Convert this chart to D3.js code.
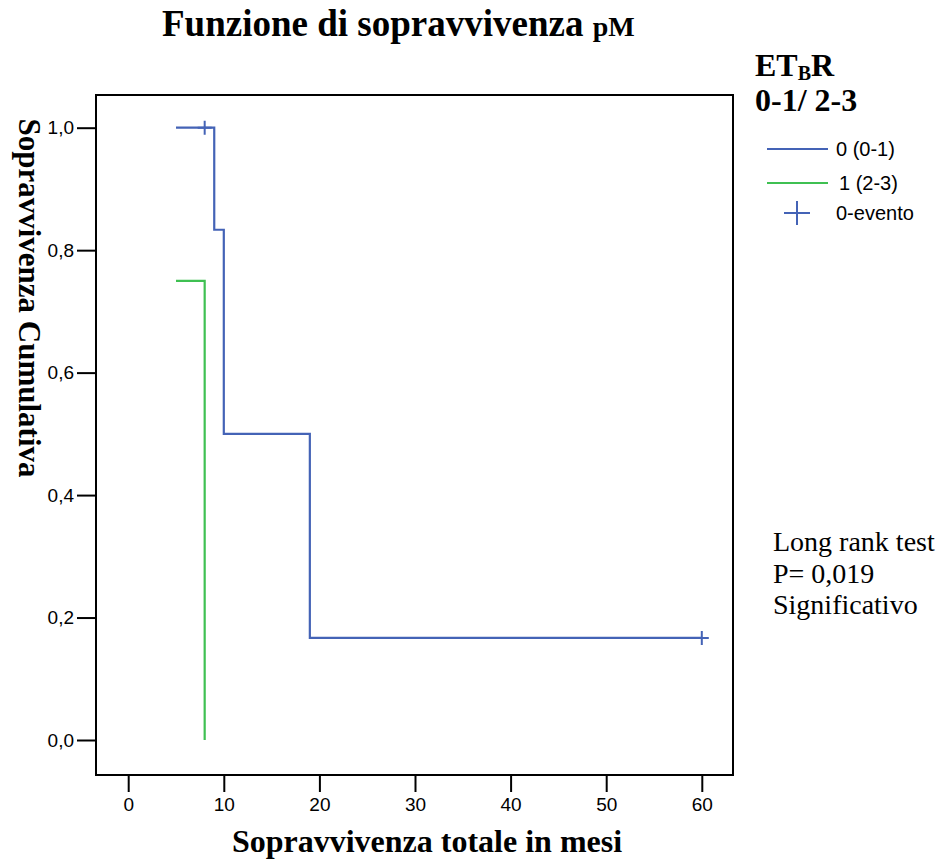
<!DOCTYPE html>
<html>
<head>
<meta charset="utf-8">
<script src="https://cdn.jsdelivr.net/npm/d3@7"></script>
<style>
  body { margin: 0; background: #fff; }
  svg { display: block; }
</style>
</head>
<body>
<svg width="946" height="859"></svg>
<script>
// Kaplan-Meier steps
const groupNames = ['0 (0-1)', '1 (2-3)'];
const group0Times = [5, 9, 10, 19, 60];
const group0Surv = [1.0, 0.8333, 0.5, 0.1667, 0.1667];
const group1Times = [5, 8];
const group1Surv = [0.75, 0.0];
const censorTimes = [8, 60];
const censorSurv = [1.0, 0.1667];
const xTicks = [0, 10, 20, 30, 40, 50, 60];
const yTicks = [0, 0.2, 0.4, 0.6, 0.8, 1.0];
const testLines = ['Long rank test', 'P= 0,019', 'Significativo'];

const blue = '#4463b6';
const green = '#3fc052';

const svg = d3.select('svg');

const frame = { left: 96, right: 733, top: 95, bottom: 775 };
const x = d3.scaleLinear().domain([0, 60]).range([128.2, 701.8]);
const y = d3.scaleLinear().domain([0, 1]).range([740, 127.7]);

// title
const title = svg.append('text')
  .attr('x', 162).attr('y', 36)
  .attr('font-family', 'Liberation Serif, Times New Roman, serif')
  .attr('font-weight', 'bold')
  .attr('font-size', 37)
  .text('Funzione di sopravvivenza ');
title.append('tspan').attr('font-size', 28).text('pM');

// plot frame
svg.append('rect')
  .attr('x', frame.left).attr('y', frame.top)
  .attr('width', frame.right - frame.left)
  .attr('height', frame.bottom - frame.top)
  .attr('fill', 'none').attr('stroke', '#000').attr('stroke-width', 2);

const fmt = d => d3.format('.1f')(d).replace('.', ',');

const yAxis = svg.append('g')
  .attr('transform', `translate(${frame.left - 19},0)`)
  .call(d3.axisLeft(y).tickValues(yTicks).tickFormat(fmt).tickSize(0).tickPadding(3));
yAxis.select('.domain').remove();
yAxis.selectAll('.tick line').remove();
yAxis.selectAll('.tick').append('line')
  .attr('x1', 0).attr('x2', 19)
  .attr('stroke', '#000').attr('stroke-width', 2);

const xAxis = svg.append('g')
  .attr('transform', `translate(0,${frame.bottom})`)
  .call(d3.axisBottom(x).tickValues(xTicks).tickSize(17).tickPadding(6));
xAxis.select('.domain').remove();
xAxis.selectAll('.tick line').attr('stroke', '#000').attr('stroke-width', 2);

svg.selectAll('.tick text')
  .attr('font-family', 'Liberation Sans, Arial, sans-serif')
  .attr('font-size', 19)
  .attr('fill', '#000');

// axis titles
svg.append('text')
  .attr('x', 427).attr('y', 852)
  .attr('text-anchor', 'middle')
  .attr('font-family', 'Liberation Serif, Times New Roman, serif')
  .attr('font-weight', 'bold').attr('font-size', 32)
  .text('Sopravvivenza totale in mesi');

svg.append('text')
  .attr('transform', 'translate(19,298) rotate(90)')
  .attr('text-anchor', 'middle')
  .attr('font-family', 'Liberation Serif, Times New Roman, serif')
  .attr('font-weight', 'bold').attr('font-size', 31)
  .text('Sopravvivenza Cumulativa');

// survival curves
const line = d3.line()
  .x(d => x(d[0])).y(d => y(d[1]))
  .curve(d3.curveStepAfter);

const series = [
  { pts: d3.zip(group0Times, group0Surv), color: blue },
  { pts: d3.zip(group1Times, group1Surv), color: green }
];

svg.selectAll('path.km')
  .data(series)
  .join('path')
  .attr('class', 'km')
  .attr('d', d => line(d.pts))
  .attr('fill', 'none')
  .attr('stroke', d => d.color)
  .attr('stroke-width', 2.2);

// censor marks
const cross = 'M-7,0H7M0,-7V7';
svg.selectAll('path.censor')
  .data(d3.zip(censorTimes, censorSurv))
  .join('path')
  .attr('class', 'censor')
  .attr('transform', d => `translate(${x(d[0])},${y(d[1])})`)
  .attr('d', cross)
  .attr('stroke', blue).attr('stroke-width', 2);

// legend
const leg = svg.append('g');
const head = leg.append('text')
  .attr('x', 755).attr('y', 76)
  .attr('font-family', 'Liberation Serif, Times New Roman, serif')
  .attr('font-weight', 'bold').attr('font-size', 32);
head.append('tspan').text('ET');
head.append('tspan').attr('font-size', 20).attr('dy', 4).text('B');
head.append('tspan').attr('dy', -4).text('R');
leg.append('text')
  .attr('x', 755).attr('y', 111)
  .attr('font-family', 'Liberation Serif, Times New Roman, serif')
  .attr('font-weight', 'bold').attr('font-size', 32)
  .text('0-1/ 2-3');

const legRows = [
  { label: groupNames[0], color: blue, y: 149, tx: 836 },
  { label: groupNames[1], color: green, y: 183, tx: 839 }
];
legRows.forEach(r => {
  leg.append('line')
    .attr('x1', 767).attr('x2', 828)
    .attr('y1', r.y).attr('y2', r.y)
    .attr('stroke', r.color).attr('stroke-width', 2.2);
  leg.append('text')
    .attr('x', r.tx).attr('y', r.y + 7)
    .attr('font-family', 'Liberation Sans, Arial, sans-serif')
    .attr('font-size', 20)
    .text(r.label);
});
leg.append('path')
  .attr('transform', 'translate(797,213)')
  .attr('d', 'M-13,0H13M0,-12V12')
  .attr('stroke', blue).attr('stroke-width', 2);
leg.append('text')
  .attr('x', 836).attr('y', 220)
  .attr('font-family', 'Liberation Sans, Arial, sans-serif')
  .attr('font-size', 20)
  .text('0-evento');

// test note
svg.append('g').selectAll('text')
  .data(testLines)
  .join('text')
  .attr('x', 773)
  .attr('y', (d, i) => 551 + i * 31.5)
  .attr('font-family', 'Liberation Serif, Times New Roman, serif')
  .attr('font-size', 28)
  .text(d => d);
</script>
</body>
</html>
